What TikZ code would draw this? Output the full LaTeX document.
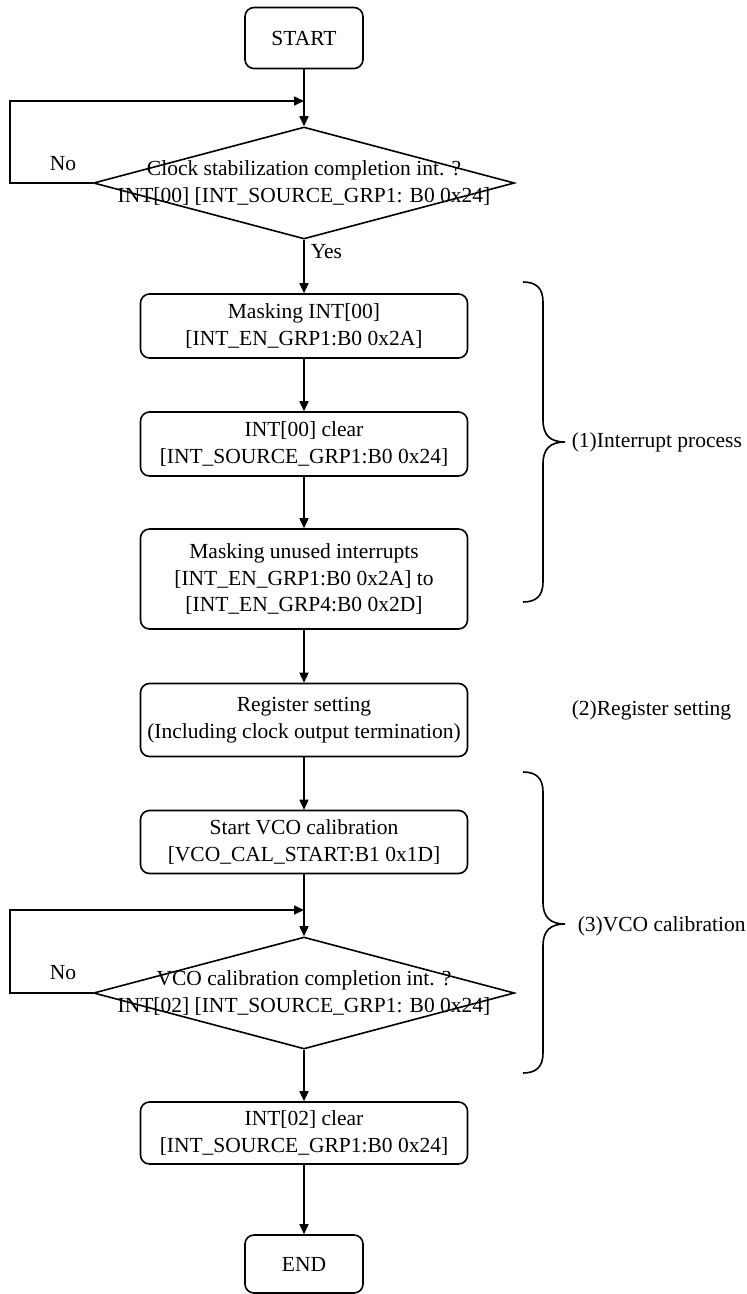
\documentclass[tikz,border=0pt]{standalone}
\usepackage{fontspec}
\setmainfont{Liberation Serif}
\usetikzlibrary{shapes.geometric,arrows.meta}

\begin{document}
\begin{tikzpicture}[x=1pt, y=-1pt, line width=1.6pt,
  every node/.style={font=\fontsize{21.5}{26.5}\selectfont},
  termbox/.style={draw, rectangle, rounded corners=9pt, minimum width=118pt, minimum height=61pt, inner sep=0pt},
  procbox/.style={draw, rectangle, rounded corners=9pt, minimum width=327pt, minimum height=64pt, inner sep=0pt, align=center},
  decision/.style={draw, diamond, minimum width=421pt, minimum height=112pt, inner sep=0pt},
  flow/.style={-{Triangle[length=10pt,width=9pt]}}]
\useasboundingbox (0,0) rectangle (747,1294);

% Start and clock check
\node[termbox] (start) at (304,38) {START};
\node[decision] (chk1) at (304,183) {};
\node[align=center] (chk1txt) at (chk1) {Clock stabilization completion int. ?\\INT[00] [INT\_SOURCE\_GRP1: B0 0x24]};
\coordinate (j1) at (304,101);
\coordinate (l1) at (10,183);
\node (no1) at (63,164) {No};
\node[anchor=west, inner sep=0pt] (yes1) at (310,252) {Yes};

% (1) Interrupt process
\node[procbox] (mask) at (304,326) {Masking INT[00]\\{}[INT\_EN\_GRP1:B0 0x2A]};
\node[procbox] (clr0) at (304,444) {INT[00] clear\\{}[INT\_SOURCE\_GRP1:B0 0x24]};
\node[procbox, minimum height=100pt] (unused) at (304,579) {Masking unused interrupts\\{}[INT\_EN\_GRP1:B0 0x2A] to\\{}[INT\_EN\_GRP4:B0 0x2D]};

% (2) Register setting
\node[procbox, minimum height=73pt] (reg) at (304,720) {Register setting\\(Including clock output termination)};

% (3) VCO calibration
\node[procbox, minimum height=63pt] (vco) at (304,842) {Start VCO calibration\\{}[VCO\_CAL\_START:B1 0x1D]};
\node[decision] (chk2) at (304,993) {};
\node[align=center] (chk2txt) at (chk2) {VCO calibration completion int. ?\\INT[02] [INT\_SOURCE\_GRP1: B0 0x24]};
\coordinate (j2) at (304,910);
\coordinate (l2) at (10,993);
\node (no2) at (63,973) {No};
\node[procbox, minimum height=62pt] (clr2) at (304,1133) {INT[02] clear\\{}[INT\_SOURCE\_GRP1:B0 0x24]};
\node[termbox, minimum height=58pt] (finish) at (304,1264) {END};

% Flow
\draw[flow] (start) -- (chk1);
\draw[flow] (chk1.west) -- (l1) |- (j1);
\draw[flow] (chk1.south) -- (mask);
\draw[flow] (mask) -- (clr0);
\draw[flow] (clr0) -- (unused);
\draw[flow] (unused) -- (reg);
\draw[flow] (reg) -- (vco);
\draw[flow] (vco) -- (chk2);
\draw[flow] (chk2.west) -- (l2) |- (j2);
\draw[flow] (chk2.south) -- (clr2);
\draw[flow] (clr2) -- (finish);

% Braces and phase labels
\draw (523,282) .. controls (536,282) and (543,288) .. (543,302) -- (543,420)
  .. controls (543,435) and (550,442) .. (565,442)
  .. controls (550,442) and (543,449) .. (543,464) -- (543,582)
  .. controls (543,596) and (536,602) .. (523,602);
\draw (523,772) .. controls (536,772) and (543,778) .. (543,792) -- (543,902)
  .. controls (543,917) and (550,924) .. (565,924)
  .. controls (550,924) and (543,931) .. (543,946) -- (543,1053)
  .. controls (543,1067) and (536,1073) .. (523,1073);
\node[anchor=west, inner sep=0pt] (ph1) at (571,442) {(1)Interrupt process};
\node[anchor=west, inner sep=0pt] (ph2) at (571,710) {(2)Register setting};
\node[anchor=west, inner sep=0pt] (ph3) at (577,926) {(3)VCO calibration};
\end{tikzpicture}
\end{document}
